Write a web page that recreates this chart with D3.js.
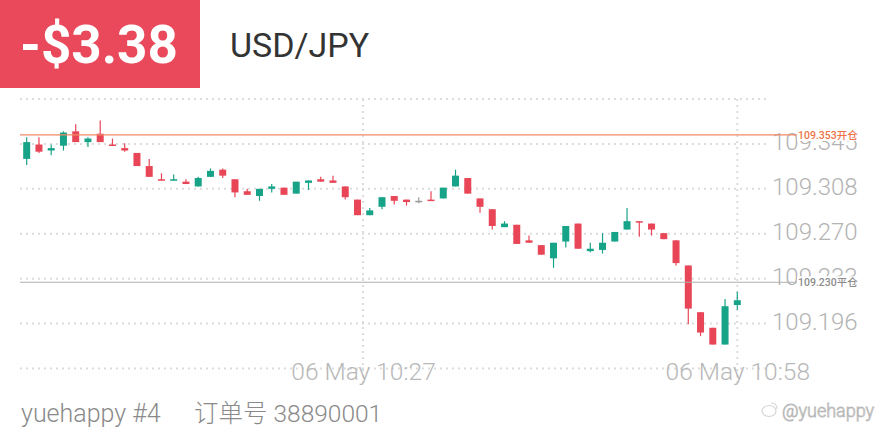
<!DOCTYPE html>
<html>
<head>
<meta charset="utf-8">
<script src="https://cdn.jsdelivr.net/npm/d3@7"></script>
<style>
  html, body { margin: 0; padding: 0; background: #fff; }
  svg { display: block; }
</style>
</head>
<body>
<svg id="chart" width="880" height="440"></svg>
<script>
// ---------- data ----------
const pnlText = "-$3.38";
const symbol = "USD/JPY";
const footerUser = "yuehappy #4";
const footerOrder = "订单号 38890001";
const watermark = "@yuehappy";

const open = [109.333,109.345,109.340,109.344,109.356,109.347,109.354,109.345,109.342,109.338,
  109.327,109.316,109.315,109.314,109.310,109.318,109.324,109.316,109.306,109.302,
  109.308,109.309,109.304,109.313,109.316,109.315,109.310,109.299,109.286,109.293,
  109.302,109.299,109.298,109.299,109.300,109.310,109.317,109.300,109.291,109.276,
  109.278,109.265,109.261,109.250,109.264,109.279,109.256,109.257,109.264,109.274,
  109.281,109.279,109.271,109.265,109.244,109.205,109.192,109.178,109.211];
const high = [109.351,109.351,109.345,109.356,109.362,109.351,109.365,109.350,109.346,109.338,
  109.333,109.321,109.320,109.316,109.318,109.325,109.325,109.316,109.308,109.308,
  109.312,109.309,109.314,109.315,109.318,109.319,109.310,109.299,109.292,109.301,
  109.302,109.299,109.301,109.306,109.309,109.324,109.317,109.300,109.291,109.281,
  109.278,109.269,109.261,109.263,109.277,109.279,109.263,109.271,109.272,109.292,
  109.281,109.279,109.271,109.265,109.244,109.205,109.192,109.216,109.222];
const low = [109.328,109.338,109.336,109.340,109.347,109.343,109.347,109.344,109.339,109.327,
  109.318,109.315,109.315,109.312,109.310,109.318,109.317,109.301,109.303,109.298,
  109.305,109.303,109.304,109.307,109.314,109.313,109.299,109.286,109.286,109.291,
  109.295,109.294,109.296,109.298,109.300,109.310,109.304,109.288,109.274,109.276,
  109.262,109.263,109.253,109.242,109.259,109.258,109.255,109.254,109.264,109.274,
  109.268,109.269,109.266,109.244,109.195,109.185,109.178,109.178,109.207];
const close = [109.347,109.339,109.342,109.355,109.347,109.350,109.347,109.344,109.340,109.327,
  109.318,109.315,109.316,109.312,109.317,109.323,109.319,109.305,109.303,109.308,
  109.310,109.303,109.314,109.315,109.314,109.313,109.301,109.286,109.290,109.301,
  109.298,109.297,109.298,109.298,109.309,109.319,109.304,109.293,109.277,109.279,
  109.262,109.263,109.253,109.263,109.277,109.258,109.258,109.263,109.272,109.281,
  109.280,109.274,109.266,109.246,109.208,109.188,109.178,109.210,109.215];

const gridValues = [109.383, 109.3455, 109.308, 109.2705, 109.233, 109.1955, 109.158];
const yTicks = [109.3455, 109.308, 109.2705, 109.233, 109.1955];
const yTickLabels = ["109.345", "109.308", "109.270", "109.233", "109.196"];
const timeTicks = [27.45, 58];           // candle-index position of the time labels
const timeTickLabels = ["06 May 10:27", "06 May 10:58"];

const openPrice = 109.353, openLabel = "109.353开仓";
const closePrice = 109.230, closeLabel = "109.230平仓";

// ---------- styles ----------
const RED = "#e84657", GREEN = "#16a388", GRAY = "#9a9a9a";
const svg = d3.select("#chart");

const x = d3.scaleLinear().domain([0, open.length - 1]).range([26.7, 737.3]);
const y = d3.scaleLinear().domain([109.158, 109.383]).range([368.5, 99]);
const gridX0 = 20, gridX1 = 767;

// header
svg.append("rect").attr("x", 0).attr("y", 0).attr("width", 200).attr("height", 88).attr("fill", "#e9495a");
svg.append("text").attr("x", 99).attr("y", 63).attr("text-anchor", "middle")
  .attr("font-family", "Roboto, 'Open Sans', sans-serif").attr("font-weight", 700)
  .attr("font-size", 53).attr("fill", "#fff").text(pnlText);
svg.append("text").attr("x", 230).attr("y", 57)
  .attr("font-family", "Roboto, 'Open Sans', sans-serif").attr("font-weight", 400)
  .attr("font-size", 34).attr("fill", "#333").text(symbol);

// horizontal grid
svg.append("g").selectAll("line").data(gridValues).join("line")
  .attr("x1", gridX0).attr("x2", gridX1)
  .attr("y1", d => y(d)).attr("y2", d => y(d))
  .attr("stroke", "#dcdcdc").attr("stroke-width", 2).attr("stroke-dasharray", "2,4");

// vertical grid
svg.append("g").selectAll("line").data(timeTicks).join("line")
  .attr("x1", d => x(d)).attr("x2", d => x(d))
  .attr("y1", 99).attr("y2", 386)
  .attr("stroke", "#dcdcdc").attr("stroke-width", 2).attr("stroke-dasharray", "2,4");

// candles
const idx = d3.range(open.length);
const colorOf = i => open[i] === close[i] ? GRAY : (close[i] > open[i] ? GREEN : RED);
const cg = svg.append("g");
cg.selectAll("line").data(idx).join("line")
  .attr("x1", i => x(i)).attr("x2", i => x(i))
  .attr("y1", i => y(high[i])).attr("y2", i => y(low[i]))
  .attr("stroke", colorOf).attr("stroke-width", 1.2);
const bw = 7;
cg.selectAll("rect").data(idx).join("rect")
  .attr("x", i => x(i) - bw / 2)
  .attr("y", i => y(Math.max(open[i], close[i])))
  .attr("width", bw)
  .attr("height", i => Math.max(1.5, Math.abs(y(open[i]) - y(close[i]))))
  .attr("fill", colorOf);

// y labels (axis)
const yAxis = d3.axisRight(y).tickValues(yTicks).tickFormat((d, i) => yTickLabels[i]).tickSize(0).tickPadding(0);
const ya = svg.append("g").attr("transform", "translate(772,0)").call(yAxis);
ya.select(".domain").remove();
ya.selectAll("text").attr("font-family", "Roboto, 'Open Sans', sans-serif").attr("font-weight", 300)
  .attr("font-size", 24).attr("fill", "#b3b3b3").attr("dy", "0.23em");

// x labels (axis)
const xAxis = d3.axisBottom(x).tickValues(timeTicks).tickFormat((d, i) => timeTickLabels[i]).tickSize(0).tickPadding(0);
const xa = svg.append("g").attr("transform", "translate(0,380)").call(xAxis);
xa.select(".domain").remove();
xa.selectAll("text").attr("font-family", "Roboto, 'Open Sans', sans-serif").attr("font-weight", 300)
  .attr("font-size", 24.5).attr("fill", "#b8b8b8").attr("dy", 0).attr("y", 0);

// open / close lines with labels
function priceLine(price, label, color, lineColor) {
  const yy = y(price);
  svg.append("line").attr("x1", gridX0).attr("x2", 798).attr("y1", yy).attr("y2", yy)
    .attr("stroke", lineColor).attr("stroke-width", 1.2);
  svg.append("rect").attr("x", 797).attr("y", yy - 6).attr("width", 62).attr("height", 12).attr("fill", "#fff");
  svg.append("text").attr("x", 798).attr("y", yy + 4)
    .attr("font-family", "Roboto, 'Noto Sans CJK SC', sans-serif").attr("font-weight", 500)
    .attr("font-size", 10.5).attr("fill", color).text(label);
}
priceLine(openPrice, openLabel, "#ee7348", "#f08866");
priceLine(closePrice, closeLabel, "#8c8c8c", "#b0b0b0");

// footer
svg.append("text").attr("x", 21).attr("y", 422)
  .attr("font-family", "Roboto, sans-serif").attr("font-weight", 300)
  .attr("font-size", 25).attr("fill", "#8a8a8a").text(footerUser);
svg.append("text").attr("x", 194).attr("y", 422)
  .attr("font-family", "Roboto, 'Noto Sans CJK SC', sans-serif").attr("font-weight", 300)
  .attr("font-size", 24.5).attr("fill", "#8a8a8a").text(footerOrder);

// watermark
const wm = svg.append("g").attr("transform", "translate(769,411)");
wm.append("ellipse").attr("rx", 7).attr("ry", 5.5).attr("fill", "none").attr("stroke", "#d4d4d4").attr("stroke-width", 1.2);
wm.append("path").attr("d", "M2,-8 q6,0 6,6").attr("fill", "none").attr("stroke", "#d4d4d4").attr("stroke-width", 1.2);
svg.append("text").attr("x", 782).attr("y", 417)
  .attr("font-family", "Roboto, sans-serif").attr("font-weight", 300)
  .attr("font-size", 18).attr("fill", "#fff").attr("stroke", "#b8b8b8").attr("stroke-width", 0.8)
  .text(watermark);
</script>
</body>
</html>
